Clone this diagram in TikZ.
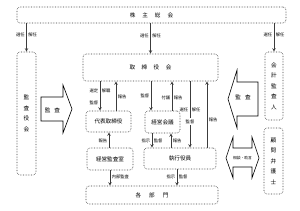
\documentclass[tikz,border=0pt]{standalone}
\usepackage{fontspec}
\setmainfont{Noto Sans CJK JP}
\usetikzlibrary{calc, positioning}
\definecolor{LineGray}{RGB}{60, 60, 60}
\newcommand{\boxfont}{\fontsize{5.6}{6}\selectfont}
\newcommand{\vfont}{\fontsize{5.6}{10.5}\selectfont}
\newcommand{\lblfont}{\fontsize{4.3}{5}\selectfont}

\begin{document}
\begin{tikzpicture}[x=1pt, y=-1pt,
  box/.style={%
    rectangle, rounded corners=3pt,
    draw=LineGray, densely dotted, line width=0.6pt,
    font=\boxfont, inner sep=0pt, align=center},
  arr/.style={->, >=stealth, draw=LineGray, line width=0.6pt},
  lbl/.style={font=\lblfont, inner sep=1.5pt},
  blk/.style={draw=black, line width=0.6pt, fill=white}
]
\useasboundingbox (0,0) rectangle (300,211);

\node[box, minimum width=269pt, minimum height=16pt] (gm) at (151.5,15) {株\hspace{7pt}主\hspace{7pt}総\hspace{7pt}会};
\node[box, font=\vfont, minimum width=19pt, minimum height=123pt] (kansa)  at (26.5,113.5) {監\\査\\役\\会};
\node[box, font=\vfont, minimum width=18pt, minimum height=68pt]  (kaikei) at (274,86)     {会\\計\\監\\査\\人};
\node[box, font=\vfont, minimum width=19pt, minimum height=66pt]  (bengo)  at (273.5,161)  {顧\\問\\弁\\護\\士};
\node[box, minimum width=135pt, minimum height=27pt] (bod)   at (150.5,67.5) {取\hspace{6.5pt}締\hspace{6.5pt}役\hspace{6.5pt}会};
\node[box, minimum width=45pt, minimum height=21pt]  (rep)   at (108.5,121.5) {代表取締役};
\node[box, minimum width=46pt, minimum height=22pt]  (audit) at (110,159)     {経営監査室};
\node[box, minimum width=35pt, minimum height=22pt]  (mtg)   at (162.5,122)   {経営会議};
\node[box, minimum width=72pt, minimum height=21pt]  (exec)  at (180,158.5)   {執行役員};
\node[box, minimum width=132pt, minimum height=18pt] (dept)  at (152,195)     {各\hspace{8pt}部\hspace{8pt}門};

% block arrows
\draw[blk] (41,97) -- (63,97) -- (63,85) -- (72,109) -- (63,133) -- (63,121) -- (41,121) -- cycle;
\node[font=\boxfont, inner sep=0pt] (kansaL) at (52.5,110) {監\hspace{4pt}査};
\draw[blk] (258,82) -- (237,82) -- (237,70) -- (228,99) -- (237,128) -- (237,116) -- (258,116) -- cycle;
\node[font=\boxfont, inner sep=0pt] (kansaR) at (243,97) {監\hspace{4pt}査};
\draw[blk] (226,158) -- (233,137) -- (233,148) -- (252,148) -- (252,137) -- (259,158)
  -- (252,178) -- (252,167) -- (233,167) -- (233,178) -- cycle;
\node[font=\fontsize{3.8}{4}\selectfont, inner sep=0pt] (sodan) at (242.5,158) {相談・助言};

% shareholders
\draw[arr] (kansa.north |- gm.south) -- node[lbl, pos=.41, left] {選任} node[lbl, pos=.41, right] {解任} (kansa.north);
\draw[arr] (bod.north |- gm.south) -- node[lbl, pos=.41, left] {選任} node[lbl, pos=.41, right] {解任} (bod.north);
\draw[arr] (kaikei.north |- gm.south) -- node[lbl, pos=.41, left] {選任} node[lbl, pos=.41, right] {解任} (kaikei.north);

% board
\draw[arr] ([xshift=-8.5pt]rep.north |- bod.south) -- node[lbl, pos=.33, left] {選定} node[lbl, pos=.33, right] {解職}
  node[lbl, pos=.73, left] {監督} ([xshift=-8.5pt]rep.north);
\draw[arr] ([xshift=7.5pt]rep.north) -- node[lbl, pos=.47, right] {報告} ([xshift=7.5pt]rep.north |- bod.south);
\draw[arr] ([xshift=-11.5pt]mtg.north |- bod.south) -- node[lbl, pos=.5, left] {監督} ([xshift=-11.5pt]mtg.north);
\draw[arr] ([xshift=9.5pt]mtg.north) -- node[lbl, pos=.43, left] {付議} node[lbl, pos=.43, right] {報告} ([xshift=9.5pt]mtg.north |- bod.south);
\draw[arr] ([xshift=10pt]exec.north |- bod.south) -- node[lbl, pos=.43, left] {選任} node[lbl, pos=.43, right] {解任}
  node[lbl, pos=.61, fill=white] {監督} ([xshift=10pt]exec.north);
\draw[arr] ([xshift=27pt]exec.north) -- node[lbl, pos=.42, right] {報告} ([xshift=27pt]exec.north |- bod.south);

% execution
\draw[arr] ([xshift=-10.5pt]mtg.south) -- node[lbl, pos=.53, left] {指示} node[lbl, pos=.53, right] {監督} ([xshift=-10.5pt]mtg.south |- exec.north);
\draw[arr] ([xshift=8.5pt]mtg.south |- exec.north) -- node[lbl, pos=.47, right] {報告} ([xshift=8.5pt]mtg.south);
\draw[arr] ([xshift=-1pt]audit.north) -- node[lbl, pos=.44, left] {報告} ([xshift=-1pt]audit.north |- rep.south);
\draw[arr] (audit.south) -- node[lbl, pos=.4, right] {内部監査} (audit.south |- dept.north);
\draw[arr] ([xshift=-3pt]exec.south) -- node[lbl, pos=.47, left] {指示} node[lbl, pos=.47, right] {監督} ([xshift=-3pt]exec.south |- dept.north);
\end{tikzpicture}
\end{document}
